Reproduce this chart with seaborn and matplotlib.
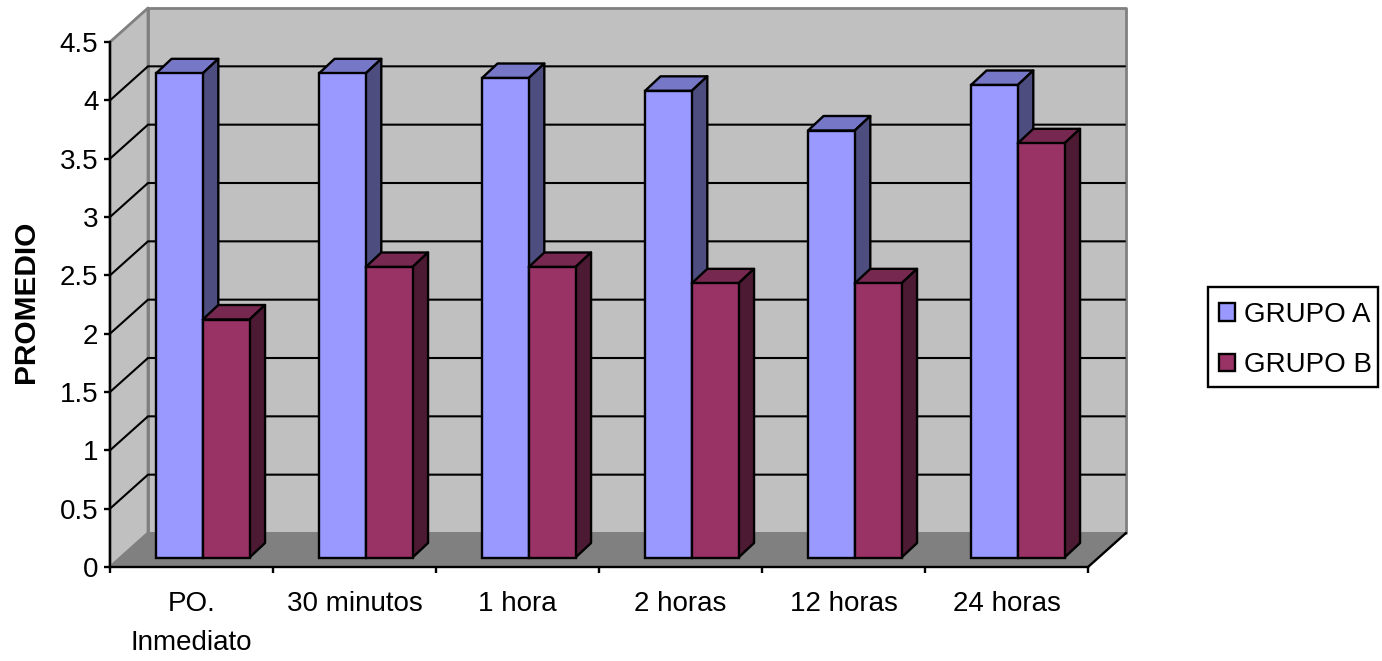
import matplotlib
matplotlib.use("Agg")
import matplotlib.pyplot as plt
import pandas as pd
import seaborn as sns
from matplotlib.patches import Patch, Polygon, Rectangle
from matplotlib.colors import to_rgb

# Pain score averages per time point
categorias = ["PO.\nInmediato", "30 minutos", "1 hora", "2 horas", "12 horas", "24 horas"]
grupo_a = [4.15, 4.15, 4.11, 4.00, 3.66, 4.05]
grupo_b = [2.04, 2.49, 2.49, 2.35, 2.35, 3.55]
grupos = ["GRUPO A", "GRUPO B"]
colores = ["#9999FF", "#993366"]
y_ticks = [0, 0.5, 1, 1.5, 2, 2.5, 3, 3.5, 4, 4.5]
y_labels = ["0", "0.5", "1", "1.5", "2", "2.5", "3", "3.5", "4", "4.5"]

sns.set_theme(style="white")
plt.rcParams["font.family"] = ["Liberation Sans", "DejaVu Sans"]

W, H = 1382, 661
fig = plt.figure(figsize=(W / 100, H / 100), dpi=100, facecolor="white")

# Front plane of the box, in pixels
left, right, top, bottom = 110, 1088, 42, 567
ax = fig.add_axes([left / W, (H - bottom) / H, (right - left) / W, (bottom - top) / H])

df = pd.DataFrame({
    "categoria": categorias * 2,
    "valor": grupo_a + grupo_b,
    "grupo": [grupos[0]] * 6 + [grupos[1]] * 6,
})

LW = 1.7
FS = 20
sns.barplot(data=df, x="categoria", y="valor", hue="grupo", palette=colores,
            width=93.5 / 163, gap=0, saturation=1, edgecolor="black", linewidth=LW,
            legend=False, ax=ax)

ax.set_xlim(-0.5, 5.5)
ax.set_ylim(0, 4.5)

px_x = 6 / (right - left)     # data units per pixel, horizontal
px_y = 4.5 / (bottom - top)   # data units per pixel, vertical

# Oblique projection: offsets of the back wall and of the bar depth
wall_dx, wall_dy = 38 * px_x, 34 * px_y
depth_dx, depth_dy = 15.5 * px_x, 14.5 * px_y
bar_dx, bar_dy = 11.3 * px_x, 9.5 * px_y

x0, x1 = -0.5, 5.5
GRAY = "#808080"
WALL = "#C0C0C0"
FLOOR = "#808080"


def face(points, fc, ec, z, lw=LW):
    ax.add_patch(Polygon(points, closed=True, facecolor=fc, edgecolor=ec, linewidth=lw,
                         joinstyle="round", zorder=z, clip_on=False))


# Walls and floor
ymax = 4.5
face([(x0 + wall_dx, wall_dy), (x1 + wall_dx, wall_dy), (x1 + wall_dx, ymax + wall_dy),
      (x0 + wall_dx, ymax + wall_dy)], WALL, GRAY, 0.1, 2.0)
face([(x0, 0), (x0 + wall_dx, wall_dy), (x0 + wall_dx, ymax + wall_dy), (x0, ymax)],
     WALL, GRAY, 0.2, 2.0)
face([(x0, 0), (x1, 0), (x1 + wall_dx, wall_dy), (x0 + wall_dx, wall_dy)], FLOOR, FLOOR, 0.3, 1.0)

# Gridlines on both walls
for t in y_ticks[1:-1]:
    ax.plot([x0, x0 + wall_dx, x1 + wall_dx - 1 * px_x], [t, t + wall_dy, t + wall_dy],
            color="black", lw=1.5, zorder=0.4, clip_on=False, solid_joinstyle="miter")
ax.plot([x1, x1 + wall_dx], [0, wall_dy], color="black", lw=LW, zorder=0.5, clip_on=False)

# Bars: move the fronts onto the floor, then add the top and side faces
for g, (container, rgb) in enumerate(zip(ax.containers, colores)):
    base = to_rgb(rgb)
    top_col = tuple(c * 0.78 for c in base)
    side_col = tuple(c * 0.5 for c in base)
    for bar in container:
        bar.set_x(bar.get_x() + bar_dx)
        bar.set_y(bar_dy)
        bar.set_zorder(2.5 + g)
        xa, xb = bar.get_x(), bar.get_x() + bar.get_width()
        yb, yt = bar_dy, bar_dy + bar.get_height()
        face([(xa, yt), (xb, yt), (xb + depth_dx, yt + depth_dy), (xa + depth_dx, yt + depth_dy)],
             top_col, "black", 2 + g)
        face([(xb, yb), (xb + depth_dx, yb + depth_dy), (xb + depth_dx, yt + depth_dy), (xb, yt)],
             side_col, "black", 2 + g)

# Axes: ticks sit on category boundaries, labels on the category centres
sns.despine(ax=ax, top=True, right=True)
for s in ("left", "bottom"):
    ax.spines[s].set_linewidth(LW)
    ax.spines[s].set_color("black")
    ax.spines[s].set_zorder(5)
ax.set_yticks(y_ticks)
ax.set_yticklabels(y_labels, fontsize=FS, color="black")
ax.tick_params(axis="y", which="major", left=True, length=4.3, width=LW, color="black", pad=4)
ax.set_xticks([i - 0.5 for i in range(7)])
ax.set_xticklabels([""] * 7)
ax.tick_params(axis="x", which="major", bottom=True, length=4.5, width=LW, color="black")
ax.set_xticks(range(6), minor=True)
ax.set_xticklabels(categorias, minor=True, fontsize=FS, color="black", linespacing=1.68)
ax.tick_params(axis="x", which="minor", bottom=False, length=0, pad=17)
ax.set_xlabel("")
ax.set_ylabel("")
fig.text(26 / W, 1 - 302 / H, "PROMEDIO", rotation=90, ha="center", va="center",
         fontsize=21.5, fontweight="bold", color="black")

# Legend: frame drawn separately so the rows can sit freely inside it
fig.add_artist(Rectangle((1208 / W, 1 - 387 / H), 170 / W, 100 / H, transform=fig.transFigure,
                         facecolor="white", edgecolor="black", linewidth=LW))
handles = [Patch(facecolor=c, edgecolor="black", linewidth=LW) for c in colores]
leg = fig.legend(handles, grupos, loc="upper left",
                 bbox_to_anchor=(1219 / W, 1 - 302 / H), bbox_transform=fig.transFigure,
                 fontsize=FS, frameon=False, borderaxespad=0, borderpad=0,
                 handlelength=0.56, handleheight=0.6, handletextpad=0.33, labelspacing=0.88,
                 labelcolor="black")

fig.savefig("out.png", dpi=100, facecolor="white")
